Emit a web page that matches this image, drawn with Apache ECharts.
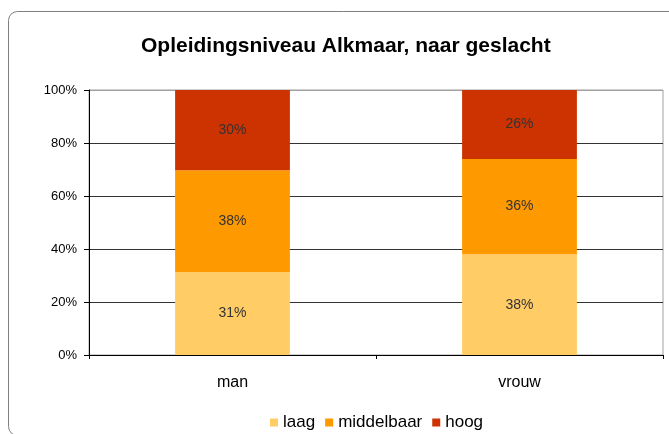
<!DOCTYPE html>
<html style="height: 100%">
<head>
    <meta charset="utf-8">
    <script type="text/javascript" src="https://cdn.jsdelivr.net/npm/echarts@6/dist/echarts.min.js"></script>
</head>
<body style="height: 100%; margin: 0; background: #fff">
<div id="container" style="height: 434px; width: 669px"></div>
<script type="text/javascript">
    var categories = ['man', 'vrouw'];
    var laag = [31, 38];
    var middelbaar = [38, 36];
    var hoog = [30, 26];
    var yTicks = [0, 20, 40, 60, 80, 100];

    var font = '"Liberation Sans", Arial, sans-serif';
    // 100% stacked: share of each bar's total
    var totals = categories.map(function (c, i) {
        return laag[i] + middelbaar[i] + hoog[i];
    });
    function share(arr) {
        return arr.map(function (v, i) {
            return { value: v / totals[i] * 100, raw: v };
        });
    }

    var dom = document.getElementById("container");
    var myChart = echarts.init(dom);
    var barLabel = {
        show: true,
        position: 'inside',
        fontFamily: font,
        fontSize: 14,
        color: '#333',
        formatter: function (p) { return p.data.raw + '%'; }
    };
    function makeSeries(name, arr, color) {
        return {
            name: name,
            type: 'bar',
            stack: 'total',
            barWidth: '40%',
            data: share(arr),
            itemStyle: { color: color },
            label: barLabel
        };
    }
    var option = {
        animation: false,
        textStyle: { fontFamily: font },
        graphic: [{
            type: 'rect',
            shape: { x: 8.5, y: 11.5, width: 680, height: 424, r: 9 },
            style: { fill: 'none', stroke: '#808080', lineWidth: 1 },
            z: -1
        }],
        title: {
            text: 'Opleidingsniveau Alkmaar, naar geslacht',
            left: 136,
            top: 31,
            textStyle: { fontFamily: font, fontSize: 21, fontWeight: 'bold', color: '#000' }
        },
        legend: {
            left: 265,
            top: 409,
            itemWidth: 8,
            itemHeight: 8,
            itemGap: 10,
            icon: 'rect',
            textStyle: { fontFamily: font, fontSize: 17, color: '#000' },
            data: ['laag', 'middelbaar', 'hoog']
        },
        grid: {
            left: 89,
            right: 6,
            top: 90,
            bottom: 79,
            show: true,
            borderColor: '#a0a0a0',
            borderWidth: 1
        },
        xAxis: {
            type: 'category',
            data: categories,
            axisLine: { lineStyle: { color: '#000' } },
            axisTick: { show: true, length: 4, lineStyle: { color: '#000' } },
            axisLabel: { margin: 20, fontSize: 16, color: '#000', fontFamily: font }
        },
        yAxis: {
            type: 'value',
            min: yTicks[0],
            max: yTicks[yTicks.length - 1],
            interval: 20,
            axisLine: { show: true, lineStyle: { color: '#000' } },
            axisTick: { show: true, length: 5, lineStyle: { color: '#000' } },
            axisLabel: { margin: 12, fontSize: 13, color: '#000', fontFamily: font, formatter: '{value}%' },
            splitLine: {
                lineStyle: { color: ['#333', '#333', '#333', '#333', '#333', '#a0a0a0'], width: 1 }
            }
        },
        series: [
            makeSeries('laag', laag, '#FFCC66'),
            makeSeries('middelbaar', middelbaar, '#FF9900'),
            makeSeries('hoog', hoog, '#CC3300')
        ]
    };
    myChart.setOption(option);
</script>
</body>
</html>
